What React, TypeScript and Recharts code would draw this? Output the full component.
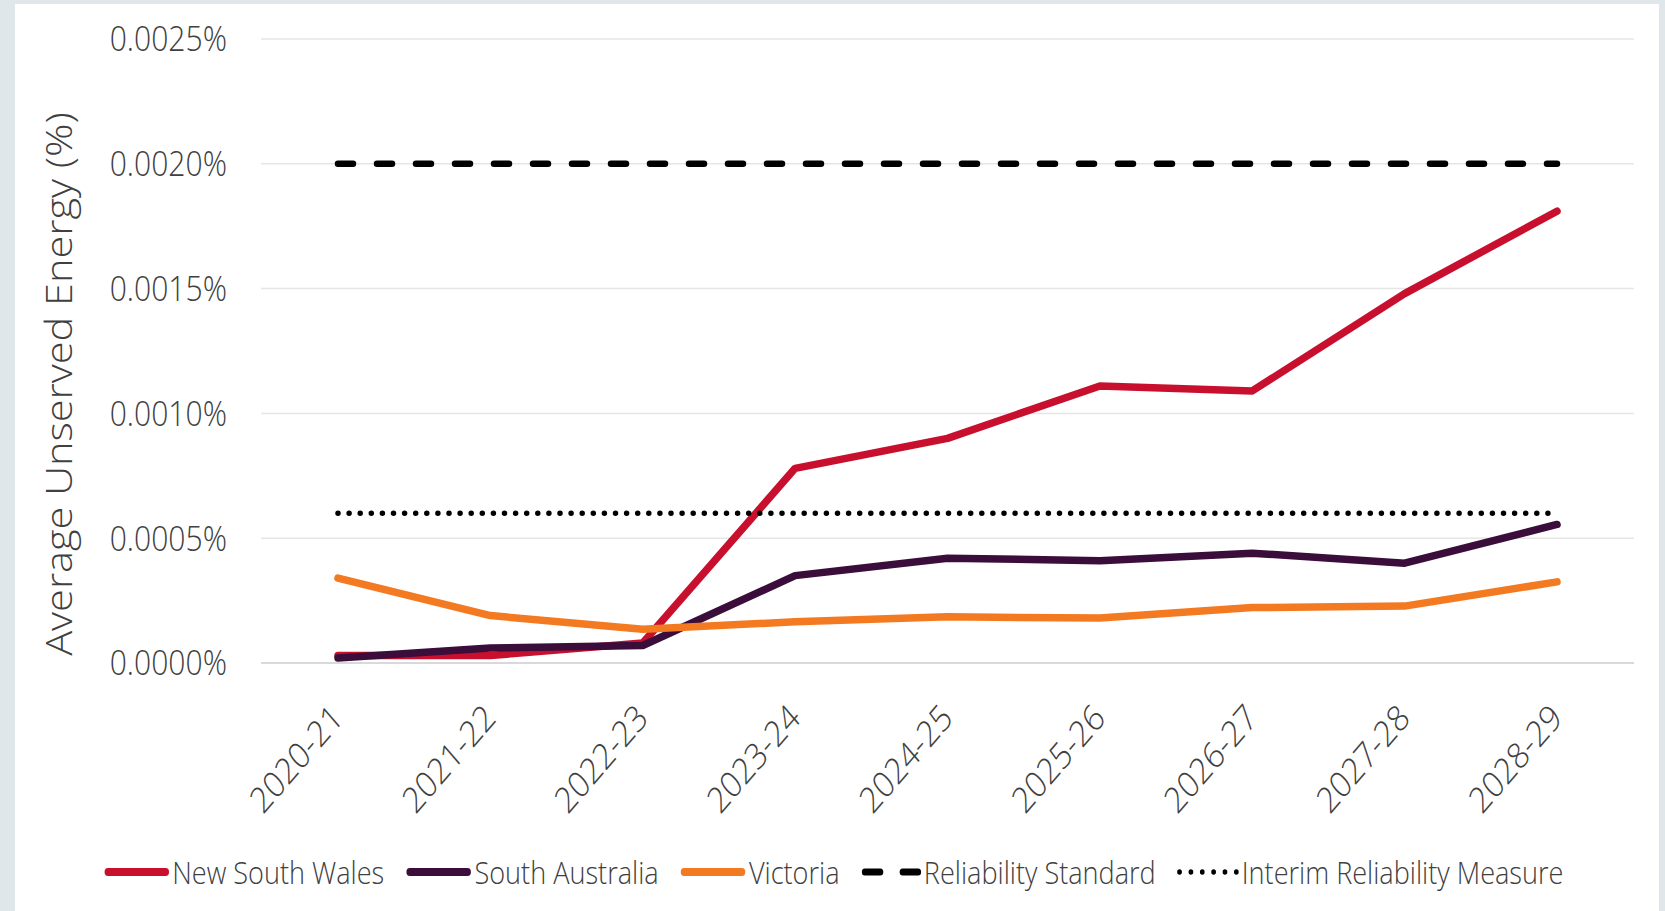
import { CartesianGrid, Legend, Line, LineChart, XAxis, YAxis } from "recharts";

const years = ["2020-21", "2021-22", "2022-23", "2023-24", "2024-25", "2025-26", "2026-27", "2027-28", "2028-29"];
const newSouthWales = [0.00003, 0.00003, 0.00008, 0.00078, 0.0009, 0.00111, 0.00109, 0.00148, 0.00181];
const southAustralia = [0.00002, 0.00006, 0.00007, 0.00035, 0.00042, 0.00041, 0.00044, 0.0004, 0.000555];
const victoria = [0.00034, 0.00019, 0.000135, 0.000165, 0.000185, 0.00018, 0.000222, 0.000228, 0.000325];
const reliabilityStandard = [0.002, 0.002, 0.002, 0.002, 0.002, 0.002, 0.002, 0.002, 0.002];
const interimMeasure = [0.0006, 0.0006, 0.0006, 0.0006, 0.0006, 0.0006, 0.0006, 0.0006, 0.0006];
const yTicks = [0, 0.0005, 0.001, 0.0015, 0.002, 0.0025];
const seriesOrder = ["nsw", "sa", "vic", "standard", "interim"];

const data = years.map((year, i) => ({
  year,
  nsw: newSouthWales[i],
  sa: southAustralia[i],
  vic: victoria[i],
  standard: reliabilityStandard[i],
  interim: interimMeasure[i],
}));

const FONT = '"Open Sans", "Liberation Sans", Arial, sans-serif';
const TEXT = "#404040";
// the source picture is squeezed sideways, so the text is too
const SQUEEZE = 0.86;

function YearTick({ x, y, payload }: any) {
  const ax = x + 7;
  const ay = y + 55;
  return (
    <g transform={`translate(${ax}, ${ay}) scale(${SQUEEZE}, 1) rotate(-45)`}>
      <text x={0} y={0} textAnchor="end" fontFamily={FONT} fontWeight={300} fontSize={36} fill={TEXT}>
        {payload.value}
      </text>
    </g>
  );
}

function ValueTick({ x, y, payload }: any) {
  return (
    <g transform={`translate(${x}, ${y}) scale(${SQUEEZE}, 1)`}>
      <text x={0} y={0} dy="0.355em" textAnchor="end" fontFamily={FONT} fontWeight={300} fontSize={35} fill={TEXT}>
        {`${Number(payload.value).toFixed(4)}%`}
      </text>
    </g>
  );
}

function LegendIcon({ kind, color }: { kind: string; color: string }) {
  if (kind === "standard") {
    return (
      <svg width={70} height={14}>
        <line x1={4} y1={7} x2={66} y2={7} stroke={color} strokeWidth={7} strokeLinecap="round" strokeDasharray="18 26" />
      </svg>
    );
  }
  if (kind === "interim") {
    return (
      <svg width={72} height={14}>
        <line x1={3} y1={7} x2={69} y2={7} stroke={color} strokeWidth={5.5} strokeLinecap="round" strokeDasharray="0 13.2" />
      </svg>
    );
  }
  return (
    <svg width={77} height={14}>
      <line x1={5} y1={7} x2={72} y2={7} stroke={color} strokeWidth={8} strokeLinecap="round" />
    </svg>
  );
}

function ChartLegend({ payload }: any) {
  const items = [...(payload || [])].sort(
    (a: any, b: any) => seriesOrder.indexOf(a.dataKey) - seriesOrder.indexOf(b.dataKey)
  );
  return (
    <div
      style={{
        display: "flex",
        justifyContent: "center",
        alignItems: "center",
        gap: 25,
        transform: `scaleX(${SQUEEZE})`,
        transformOrigin: "839px center",
      }}
    >
      {items.map((item: any) => (
        <div key={item.dataKey} style={{ display: "flex", alignItems: "center" }}>
          <LegendIcon kind={item.dataKey} color={item.color} />
          <span
            style={{
              fontFamily: FONT,
              fontWeight: 300,
              fontSize: 31.5,
              color: TEXT,
              marginLeft: 3,
              lineHeight: "40px",
              whiteSpace: "nowrap",
            }}
          >
            {item.value}
          </span>
        </div>
      ))}
    </div>
  );
}

export default function App() {
  return (
    <div style={{ position: "absolute", left: 0, top: 0, width: 1665, height: 911, background: "#e0e7ea" }}>
      <div style={{ position: "absolute", left: 15, top: 4, width: 1644, height: 907, background: "#ffffff" }} />
      <div style={{ position: "absolute", left: 0, top: 0 }}>
        <LineChart width={1665} height={911} data={data} margin={{ top: 39, right: 31, bottom: 88, left: 0 }}>
          <CartesianGrid vertical={false} stroke="#e6e6e6" strokeWidth={1.5} />
          <XAxis
            dataKey="year"
            interval={0}
            height={160}
            tickLine={false}
            tickSize={0}
            axisLine={{ stroke: "#d9d9d9", strokeWidth: 2 }}
            padding={{ left: 77, right: 77 }}
            tick={<YearTick />}
          />
          <YAxis
            width={261}
            domain={[0, 0.0025]}
            ticks={yTicks}
            tickLine={false}
            tickSize={0}
            tickMargin={34}
            axisLine={false}
            tick={<ValueTick />}
            label={{
              value: "Average Unserved Energy (%)",
              position: "insideLeft",
              content: () => (
                <g transform={`translate(72, 384) scale(0.9, 1) rotate(-90)`}>
                  <text x={0} y={0} textAnchor="middle" fontFamily={FONT} fontWeight={300} fontSize={41.5} fill={TEXT}>
                    Average Unserved Energy (%)
                  </text>
                </g>
              ),
            }}
          />
          <Legend
            layout="horizontal"
            verticalAlign="middle"
            align="center"
            wrapperStyle={{ top: 852, left: 0, width: 1665 }}
            content={<ChartLegend />}
          />
          <Line dataKey="nsw" name="New South Wales" stroke="#c8102e" strokeWidth={7.5} dot={false} strokeLinecap="round" strokeLinejoin="round" isAnimationActive={false} />
          <Line dataKey="sa" name="South Australia" stroke="#3a0d3a" strokeWidth={7.5} dot={false} strokeLinecap="round" strokeLinejoin="round" isAnimationActive={false} />
          <Line dataKey="vic" name="Victoria" stroke="#f37a21" strokeWidth={7.5} dot={false} strokeLinecap="round" strokeLinejoin="round" isAnimationActive={false} />
          <Line dataKey="standard" name="Reliability Standard" stroke="#000000" strokeWidth={6.5} strokeDasharray="15 24" strokeLinecap="round" dot={false} isAnimationActive={false} />
          <Line dataKey="interim" name="Interim Reliability Measure" stroke="#000000" strokeWidth={5.5} strokeDasharray="0 11.1" strokeLinecap="round" dot={false} isAnimationActive={false} />
        </LineChart>
      </div>
    </div>
  );
}
